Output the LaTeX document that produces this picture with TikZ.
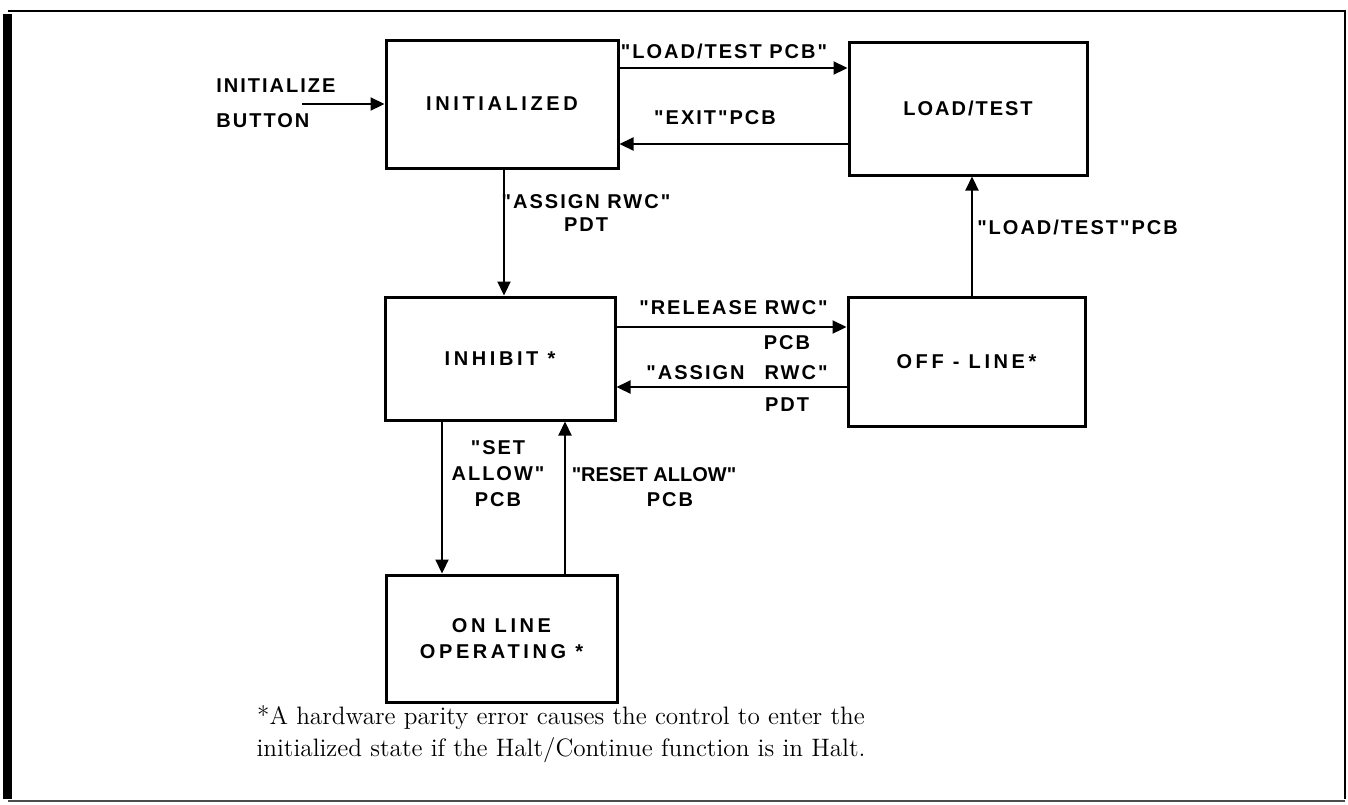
\documentclass[tikz,border=0pt]{standalone}
\usepackage{fontspec}
\usetikzlibrary{arrows.meta,calc}
\newfontfamily\labfont[LetterSpace=10]{Liberation Sans}
\newfontfamily\boxfont[LetterSpace=18]{Liberation Sans}
\newfontfamily\tightfont{Liberation Sans}
\begin{document}
\begin{tikzpicture}[x=0.5pt,y=-0.5pt,
  box/.style={draw,line width=1.5pt,inner sep=0pt,align=center,
    font=\boxfont\bfseries\fontsize{10}{13}\selectfont},
  lbl/.style={inner sep=0pt,align=center,
    font=\labfont\bfseries\fontsize{10}{11.5}\selectfont},
  arr/.style={-{Triangle[length=7pt,width=6.5pt]},line width=1.1pt},
  note/.style={inner sep=0pt,align=center,font=\fontsize{12.6}{16}\selectfont}]
\useasboundingbox (0,0) rectangle (1348,804);
% frame
\fill (3,14) rectangle (12,799);
\draw[line width=0.8pt] (8,11) -- (1345,11) -- (1345,799);
\draw[line width=0.8pt,black!70] (8,801) -- (1345,801);
% boxes
\node[box,minimum width=116pt,minimum height=64pt] (init) at (502,104) {INITIALIZED};
\node[box,font=\labfont\bfseries\fontsize{10}{13}\selectfont,minimum width=119pt,minimum height=66.5pt] (load) at (968,108.5) {LOAD/TEST};
\node[box,minimum width=115pt,minimum height=61.5pt] (inh) at (500,358.5) {INHIBIT *};
\node[box,minimum width=118.5pt,minimum height=64.5pt] (off) at (966.5,361.5) {OFF - LINE*};
\node[box,minimum width=115.5pt,minimum height=63.5pt] (onl) at (501.5,638.5) {ON LINE\\OPERATING *};
% entry
\coordinate (btn) at (302,104);
\node[lbl,align=left,anchor=west,font=\labfont\bfseries\fontsize{10}{17.5}\selectfont] (btnlbl) at (216,103.5) {INITIALIZE\\BUTTON};
\draw[arr] (btn) -- (init.west |- btn);
% init <-> load
\draw[arr] (init.east |- 0,68) -- (load.west |- 0,68);
\draw[arr] (load.west |- 0,144) -- (init.east |- 0,144);
\node[lbl] (l1) at (724,51) {"LOAD/TEST PCB"};
\node[lbl] (l2) at (715,118) {"EXIT"PCB};
% init -> inhibit
\draw[arr] (init.south -| 504,0) -- (inh.north -| 504,0);
\node[lbl] (l3) at (586,213.5) {"ASSIGN RWC"\\PDT};
% inhibit <-> offline
\draw[arr] (inh.east |- 0,327) -- (off.west |- 0,327);
\draw[arr] (off.west |- 0,387) -- (inh.east |- 0,387);
\node[lbl] (l4) at (733.5,308) {"RELEASE RWC"};
\node[lbl] (l5) at (787,343) {PCB};
\node[lbl] (l6) at (737,373) {"ASSIGN\quad RWC"};
\node[lbl] (l7) at (787,405) {PDT};
% offline -> load
\draw[arr] (off.north -| 972,0) -- (load.south -| 972,0);
\node[lbl] (l8) at (1077.5,227) {"LOAD/TEST"PCB};
% inhibit <-> online
\draw[arr] (inh.south -| 442,0) -- (onl.north -| 442,0);
\draw[arr] (onl.north -| 565,0) -- (inh.south -| 565,0);
\node[lbl,font=\labfont\bfseries\fontsize{10}{13}\selectfont] (l9) at (498,474) {"SET\\ALLOW"\\PCB};
\node[lbl,font=\tightfont\bfseries\fontsize{10}{11.5}\selectfont] (l10) at (654,475) {"RESET ALLOW"};
\node[lbl] (l11) at (670,500) {PCB};
% footnote
\node[note] (fn) at (561,734) {*A hardware parity error causes the control to enter the\\initialized state if the Halt/Continue function is in Halt.};
\end{tikzpicture}
\end{document}
